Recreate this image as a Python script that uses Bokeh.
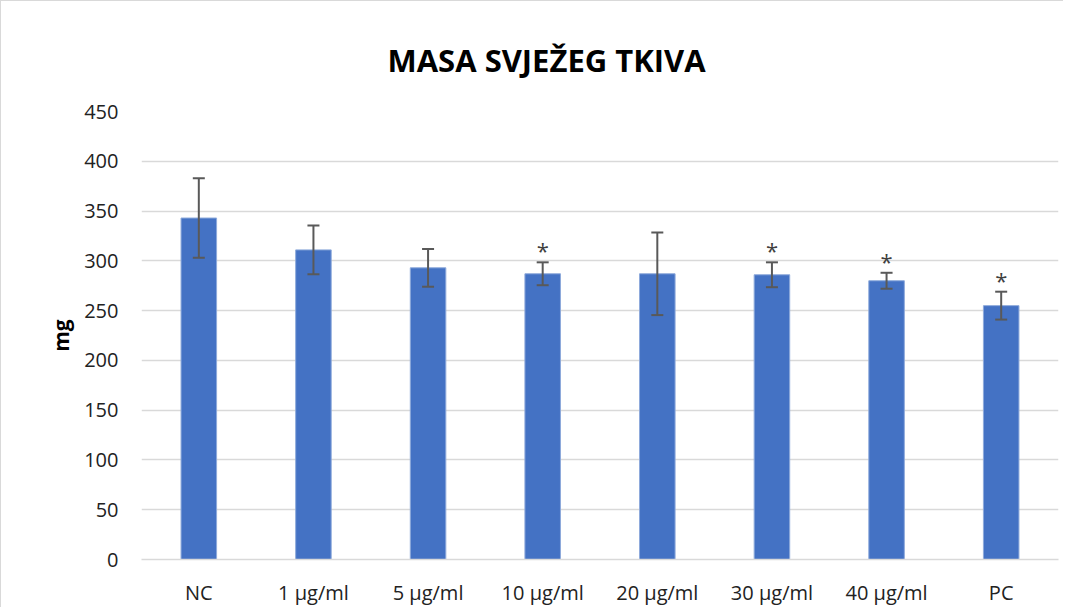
from bokeh.plotting import figure
from bokeh.models import ColumnDataSource, Whisker, TeeHead, FixedTicker
from bokeh.core.properties import value
from bokeh.embed import file_html
from bokeh.resources import INLINE

categories = ["NC", "1 µg/ml", "5 µg/ml", "10 µg/ml", "20 µg/ml", "30 µg/ml", "40 µg/ml", "PC"]
means = [343, 311, 293, 287, 287, 286, 280, 255]
errors = [40, 24.5, 19, 11.5, 41.5, 12.5, 8, 14]
significant = [False, False, False, True, False, True, True, True]
y_ticks = [0, 50, 100, 150, 200, 250, 300, 350, 400, 450]
title_text = "MASA SVJEŽEG TKIVA"

upper = [m + e for m, e in zip(means, errors)]
lower = [m - e for m, e in zip(means, errors)]
src = ColumnDataSource(dict(cat=categories, mean=means, upper=upper, lower=lower))

star_cats = [c for c, s in zip(categories, significant) if s]
star_y = [u + 18 for u, s in zip(upper, significant) if s]
star_src = ColumnDataSource(dict(cat=star_cats, y=star_y, t=["*"] * len(star_cats)))

FONT = "Open Sans"

p = figure(x_range=categories, y_range=(0, 450), width=1063, height=607,
           output_backend="svg", toolbar_location=None,
           min_border_left=140, min_border_right=6, min_border_top=110, min_border_bottom=47)
p.styles = {"border-left": "1px solid #d9d9d9", "border-top": "1px solid #d9d9d9"}
p.outline_line_color = None
p.background_fill_color = "white"
p.border_fill_color = "white"

p.title.text = title_text
p.title.align = "left"
p.title.offset = 246
p.title.vertical_align = "middle"
p.title.standoff = 60
p.title.text_font = FONT
p.title.text_font_size = "31px"
p.title.text_font_style = "bold"
p.title.text_color = "black"

p.vbar(x="cat", top="mean", width=0.31, source=src, fill_color="#4472C4",
       line_color="#8eaadb", line_width=1)

w = Whisker(base="cat", upper="upper", lower="lower", source=src, level="overlay",
            line_color="#595959", line_width=2,
            upper_head=TeeHead(size=12, line_color="#595959", line_width=2),
            lower_head=TeeHead(size=12, line_color="#595959", line_width=2))
p.add_layout(w)

p.text(x="cat", y="y", text="t", source=star_src, text_align="center",
       text_baseline="middle", text_font=value(FONT), text_font_size="22px",
       text_color="#404040", y_offset=6)

p.xgrid.grid_line_color = None
p.ygrid.grid_line_color = "#d9d9d9"
p.ygrid.grid_line_width = 1.3
p.yaxis.ticker = FixedTicker(ticks=y_ticks)

p.yaxis.axis_line_color = None
p.yaxis.major_tick_line_color = None
p.yaxis.minor_tick_line_color = None
p.yaxis.major_label_standoff = 17
p.yaxis.major_label_text_font = FONT
p.yaxis.major_label_text_font_size = "20px"
p.yaxis.major_label_text_color = "#222222"
p.yaxis.axis_label = "mg"
p.yaxis.axis_label_text_font = FONT
p.yaxis.axis_label_text_font_size = "21px"
p.yaxis.axis_label_text_font_style = "bold"
p.yaxis.axis_label_text_color = "black"
p.yaxis.axis_label_standoff = 6

p.xaxis.axis_line_color = "#d9d9d9"
p.xaxis.axis_line_width = 1.5
p.xaxis.major_tick_line_color = None
p.xaxis.minor_tick_line_color = None
p.xaxis.major_label_standoff = 13
p.xaxis.major_label_text_font = FONT
p.xaxis.major_label_text_font_size = "20px"
p.xaxis.major_label_text_color = "#222222"

open("out.html", "w").write(file_html(p, INLINE))
